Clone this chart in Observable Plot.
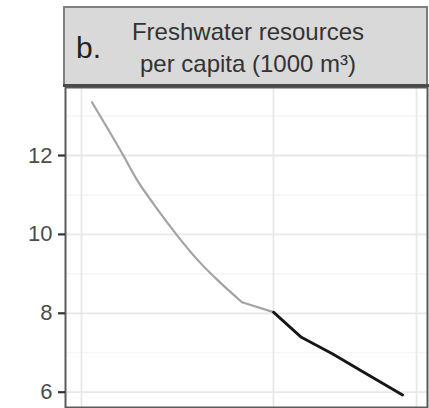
<!DOCTYPE html>
<html>
<head>
<meta charset="utf-8">
<script src="https://cdn.jsdelivr.net/npm/d3@7"></script>
<script src="https://cdn.jsdelivr.net/npm/@observablehq/plot@0.6"></script>
<style>
  html, body { margin: 0; padding: 0; background: #fff; }
  #chart { width: 429px; height: 408px; overflow: hidden; font-family: "Liberation Sans", Arial, sans-serif; }
  #chart svg { display: block; }
  #chart g[aria-label="y-axis tick"] path { stroke-width: 2.2px; }
</style>
</head>
<body>
<div id="chart"></div>
<script>
// Freshwater resources per capita (1000 m³): observed series and projection
const histYears = [1963, 1972, 1976, 1981, 1987, 1993, 1999, 2006, 2015];
const histValues = [13.35, 12.0, 11.37, 10.73, 10.02, 9.38, 8.84, 8.28, 8.03];
const projYears = [2015, 2023, 2032, 2040, 2052];
const projValues = [8.03, 7.39, 6.97, 6.55, 5.93];

const yTicks = [6, 8, 10, 12];
const yMinor = [7, 9, 11, 13];
const xGrid = [1960, 2015, 2056];

const panelLabel = "b.";
const stripLines = ["Freshwater resources", "per capita (1000 m³)"];

// the observed series bends smoothly until 2006, then runs straight to 2015
const histSmooth = histYears.map((year, i) => ({year, value: histValues[i]})).filter(d => d.year <= 2006);
const histTail = histYears.map((year, i) => ({year, value: histValues[i]})).filter(d => d.year >= 2006);
const proj = projYears.map((year, i) => ({year, value: projValues[i]}));

const W = 429, stripH = 87, panelH = 321;
const panelLeft = 65, panelRight = 427;
const font = "Liberation Sans, Arial, sans-serif";

// facet strip header
const header = d3.select("#chart").append("svg")
  .attr("width", W).attr("height", stripH);
header.append("rect")
  .attr("x", panelLeft - 1).attr("y", 7)
  .attr("width", panelRight - panelLeft + 1).attr("height", stripH - 8)
  .attr("fill", "#d9d9d9").attr("stroke", "#7f7f7f").attr("stroke-width", 2);
header.append("line")
  .attr("x1", panelLeft - 2).attr("x2", panelRight + 2)
  .attr("y1", stripH - 1.5).attr("y2", stripH - 1.5)
  .attr("stroke", "#4a4a4a").attr("stroke-width", 3);
header.append("text")
  .attr("x", 76).attr("y", 58)
  .attr("font-family", font)
  .attr("font-size", 30).attr("fill", "#222")
  .text(panelLabel);
header.selectAll("text.strip").data(stripLines).join("text")
  .attr("class", "strip")
  .attr("x", (panelLeft + panelRight) / 2 + 2)
  .attr("y", (d, i) => 40 + i * 32)
  .attr("text-anchor", "middle")
  .attr("font-family", font)
  .attr("font-size", 24).attr("fill", "#333")
  .text(d => d);

// panel
const plot = Plot.plot({
  width: W,
  height: panelH,
  marginTop: 0,
  marginLeft: panelLeft,
  marginRight: W - panelRight,
  marginBottom: 1,
  style: {fontFamily: font, background: "#fff"},
  x: {domain: [1955.42, 2059.14], axis: null},
  y: {domain: [5.612, 13.724]},
  marks: [
    Plot.gridY(yMinor, {stroke: "#f2f2f2", strokeOpacity: 1, strokeWidth: 1.2}),
    Plot.gridY(yTicks, {stroke: "#e8e8e8", strokeOpacity: 1, strokeWidth: 1.8}),
    Plot.gridX(xGrid, {stroke: "#e8e8e8", strokeOpacity: 1, strokeWidth: 1.8}),
    Plot.line(histSmooth, {x: "year", y: "value", stroke: "#a3a3a3", strokeWidth: 2.2, curve: "monotone-x"}),
    Plot.line(histTail, {x: "year", y: "value", stroke: "#a3a3a3", strokeWidth: 2.2}),
    Plot.line(proj, {x: "year", y: "value", stroke: "#161616", strokeWidth: 2.8}),
    Plot.frame({stroke: "#5a5a5a", strokeWidth: 2}),
    Plot.axisY(yTicks, {
      tickSize: 7, tickPadding: 6, fontSize: 22,
      stroke: "#333", fill: "#4d4d4d", label: null
    })
  ]
});
document.getElementById("chart").appendChild(plot);
</script>
</body>
</html>
